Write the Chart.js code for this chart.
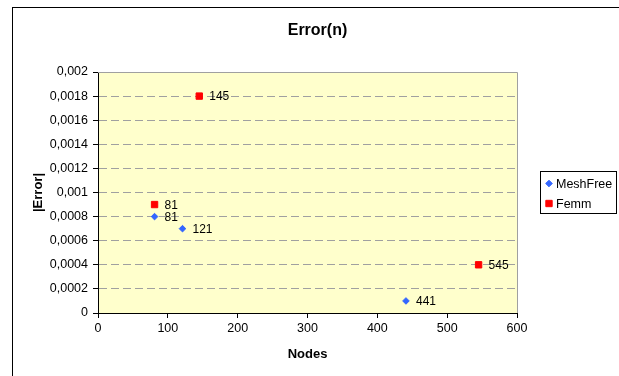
<!DOCTYPE html>
<html>
<head>
<meta charset="utf-8">
<script src="https://cdn.jsdelivr.net/npm/chart.js@4.4.0/dist/chart.umd.min.js"></script>
<style>
  html, body { margin: 0; padding: 0; background: #fff; }
  canvas { display: block; }
</style>
</head>
<body>
<canvas id="chart" width="619" height="376"></canvas>
<script>
// data
const chartTitle = 'Error(n)';
const xTitle = 'Nodes';
const yTitle = '|Error|';
const seriesNames = ['MeshFree', 'Femm'];
const meshNodes = [81, 121, 441];
const meshError = [0.0008, 0.0007, 0.0001];
const femmNodes = [81, 145, 545];
const femmError = [0.0009, 0.0018, 0.0004];

const FONT = "Arial, 'Liberation Sans', sans-serif";
const toPoints = (xs, ys) => xs.map((x, i) => ({ x, y: ys[i] }));
const comma = (v) => String(Number(v.toFixed(4))).replace('.', ',');

// frame, plot background, title, point labels and legend box
const excelLook = {
  id: 'excelLook',
  beforeDraw(chart) {
    const { ctx, chartArea: a } = chart;
    ctx.save();
    ctx.fillStyle = '#fff';
    ctx.fillRect(0, 0, chart.width, chart.height);
    ctx.strokeStyle = '#000';
    ctx.lineWidth = 1;
    ctx.strokeRect(12.5, 7.5, 620, 380);
    ctx.fillStyle = '#ffffcc';
    ctx.fillRect(a.left, a.top, a.right - a.left, a.bottom - a.top);
    ctx.restore();
  },
  afterDraw(chart) {
    const { ctx, chartArea: a } = chart;
    ctx.save();
    ctx.strokeStyle = '#a0a0a0';
    ctx.lineWidth = 1;
    ctx.beginPath();
    ctx.moveTo(a.left, a.top + 0.5);
    ctx.lineTo(a.right + 0.5, a.top + 0.5);
    ctx.lineTo(a.right + 0.5, a.bottom);
    ctx.stroke();

    ctx.fillStyle = '#000';
    ctx.font = 'bold 16px ' + FONT;
    ctx.textAlign = 'center';
    ctx.textBaseline = 'middle';
    ctx.fillText(chartTitle, 317.5, 31);

    // labels next to points: node count
    ctx.font = '12px ' + FONT;
    ctx.textAlign = 'left';
    chart.data.datasets.forEach((ds, i) => {
      chart.getDatasetMeta(i).data.forEach((pt, j) => {
        ctx.fillText(String(ds.data[j].x), pt.x + 10, pt.y + 1);
      });
    });

    // legend
    ctx.font = '12.5px ' + FONT;
    ctx.strokeStyle = '#000';
    ctx.strokeRect(540.5, 171.5, 76, 42);
    chart.data.datasets.forEach((ds, i) => {
      const y = 183.5 + i * 20;
      ctx.fillStyle = ds.backgroundColor;
      ctx.strokeStyle = ds.borderColor;
      Chart.helpers.drawPoint(ctx, {
        pointStyle: ds.pointStyle, rotation: 0,
        radius: ds.pointRadius, borderWidth: 1,
      }, 549, y);
      ctx.fillStyle = '#000';
      ctx.fillText(seriesNames[i], 556, y + 1);
    });
    ctx.restore();
  },
};

new Chart(document.getElementById('chart'), {
  type: 'scatter',
  data: {
    datasets: [
      {
        label: seriesNames[0],
        data: toPoints(meshNodes, meshError),
        pointStyle: 'rectRot',
        pointRadius: 3.3,
        borderWidth: 1,
        backgroundColor: '#3366ff',
        borderColor: '#3366ff',
      },
      {
        label: seriesNames[1],
        data: toPoints(femmNodes, femmError),
        pointStyle: 'rect',
        pointRadius: 4.5,
        borderWidth: 1,
        backgroundColor: '#ff0000',
        borderColor: '#ff0000',
      },
    ],
  },
  options: {
    responsive: false,
    animation: false,
    devicePixelRatio: 1,
    layout: { padding: { left: 27, top: 72, right: 102, bottom: 14 } },
    plugins: {
      legend: { display: false },
      title: { display: false },
      tooltip: { enabled: false },
    },
    scales: {
      x: {
        type: 'linear',
        min: 0,
        max: 600,
        afterFit: (s) => { s.height = 49; },
        ticks: { stepSize: 100, color: '#000', padding: 3, font: { family: FONT, size: 12.5 } },
        grid: { drawOnChartArea: false, drawTicks: true, tickLength: 5, tickColor: '#000' },
        border: { color: '#000', width: 1 },
        title: {
          display: true, text: xTitle, color: '#000',
          font: { family: FONT, size: 13, weight: 'bold' },
          padding: { top: 0, bottom: 0 },
        },
      },
      y: {
        type: 'linear',
        min: 0,
        max: 0.002,
        afterFit: (s) => { s.width = 71; },
        ticks: {
          stepSize: 0.0002, color: '#000', padding: 5,
          font: { family: FONT, size: 12.5 },
          callback: (v) => comma(v),
        },
        grid: {
          color: '#a0a0a0', lineWidth: 1, drawTicks: true, tickLength: 5,
          tickColor: '#000', tickBorderDash: [],
        },
        border: { color: '#000', width: 1, dash: [8, 4] },
        title: {
          display: true, text: yTitle, color: '#000',
          font: { family: FONT, size: 13, weight: 'bold' },
          padding: { top: 4, bottom: 0 },
        },
      },
    },
  },
  plugins: [excelLook],
});
</script>
</body>
</html>
